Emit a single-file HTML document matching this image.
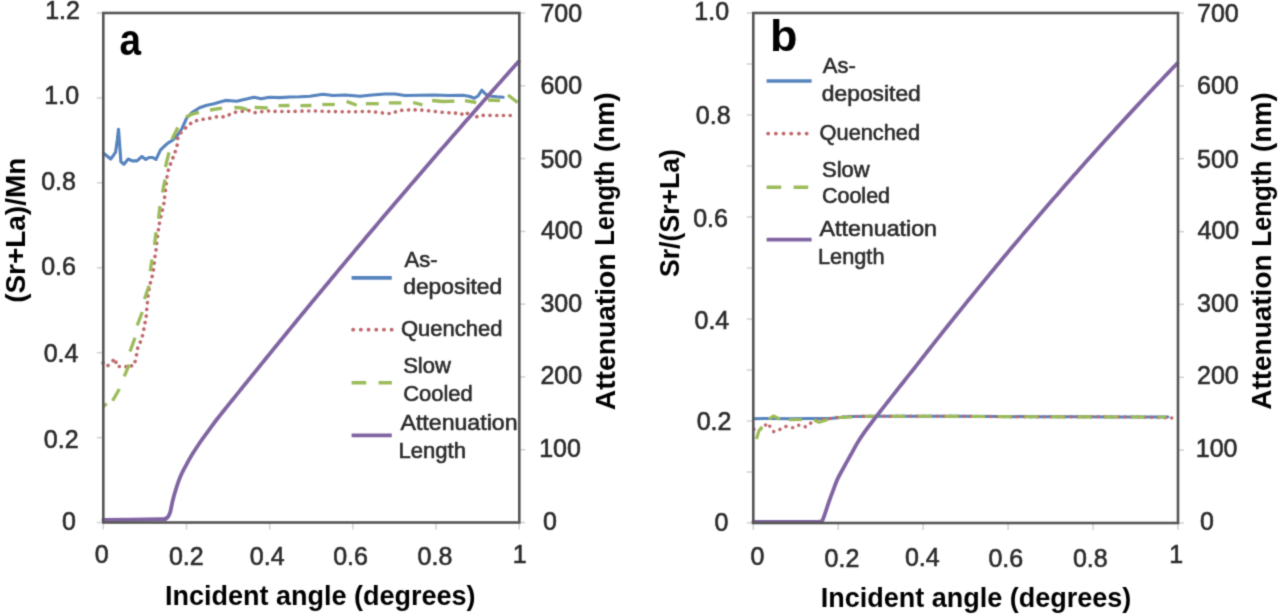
<!DOCTYPE html>
<html><head><meta charset="utf-8"><title>Chart</title>
<style>html,body{margin:0;padding:0;background:#fff;}svg{display:block;}</style>
</head><body>
<svg width="1280" height="616" viewBox="0 0 1280 616" font-family="'Liberation Sans', sans-serif">
<defs><filter id="soft" x="0" y="0" width="1" height="1" color-interpolation-filters="sRGB"><feConvolveMatrix order="3" kernelMatrix="1 4 1 4 16 4 1 4 1" divisor="36" edgeMode="duplicate"/></filter></defs>
<g filter="url(#soft)">
<rect x="0" y="0" width="1280" height="616" fill="#ffffff"/>
<line x1="96.8" y1="522.5" x2="103.3" y2="522.5" stroke="#d0d0d0" stroke-width="1.5"/>
<line x1="96.8" y1="437.6" x2="103.3" y2="437.6" stroke="#d0d0d0" stroke-width="1.5"/>
<line x1="96.8" y1="352.7" x2="103.3" y2="352.7" stroke="#d0d0d0" stroke-width="1.5"/>
<line x1="96.8" y1="267.8" x2="103.3" y2="267.8" stroke="#d0d0d0" stroke-width="1.5"/>
<line x1="96.8" y1="182.8" x2="103.3" y2="182.8" stroke="#d0d0d0" stroke-width="1.5"/>
<line x1="96.8" y1="97.9" x2="103.3" y2="97.9" stroke="#d0d0d0" stroke-width="1.5"/>
<line x1="96.8" y1="13.0" x2="103.3" y2="13.0" stroke="#d0d0d0" stroke-width="1.5"/>
<line x1="519.3" y1="522.5" x2="525.3" y2="522.5" stroke="#d0d0d0" stroke-width="1.5"/>
<line x1="519.3" y1="449.7" x2="525.3" y2="449.7" stroke="#d0d0d0" stroke-width="1.5"/>
<line x1="519.3" y1="376.9" x2="525.3" y2="376.9" stroke="#d0d0d0" stroke-width="1.5"/>
<line x1="519.3" y1="304.1" x2="525.3" y2="304.1" stroke="#d0d0d0" stroke-width="1.5"/>
<line x1="519.3" y1="231.4" x2="525.3" y2="231.4" stroke="#d0d0d0" stroke-width="1.5"/>
<line x1="519.3" y1="158.6" x2="525.3" y2="158.6" stroke="#d0d0d0" stroke-width="1.5"/>
<line x1="519.3" y1="85.8" x2="525.3" y2="85.8" stroke="#d0d0d0" stroke-width="1.5"/>
<line x1="519.3" y1="13.0" x2="525.3" y2="13.0" stroke="#d0d0d0" stroke-width="1.5"/>
<line x1="103.3" y1="522.5" x2="103.3" y2="529.5" stroke="#d0d0d0" stroke-width="1.5"/>
<line x1="186.5" y1="522.5" x2="186.5" y2="529.5" stroke="#d0d0d0" stroke-width="1.5"/>
<line x1="269.7" y1="522.5" x2="269.7" y2="529.5" stroke="#d0d0d0" stroke-width="1.5"/>
<line x1="352.9" y1="522.5" x2="352.9" y2="529.5" stroke="#d0d0d0" stroke-width="1.5"/>
<line x1="436.1" y1="522.5" x2="436.1" y2="529.5" stroke="#d0d0d0" stroke-width="1.5"/>
<line x1="519.3" y1="522.5" x2="519.3" y2="529.5" stroke="#d0d0d0" stroke-width="1.5"/>
<line x1="746.8" y1="523.0" x2="753.3" y2="523.0" stroke="#d0d0d0" stroke-width="1.5"/>
<line x1="746.8" y1="472.0" x2="753.3" y2="472.0" stroke="#d0d0d0" stroke-width="1.5"/>
<line x1="746.8" y1="421.0" x2="753.3" y2="421.0" stroke="#d0d0d0" stroke-width="1.5"/>
<line x1="746.8" y1="370.0" x2="753.3" y2="370.0" stroke="#d0d0d0" stroke-width="1.5"/>
<line x1="746.8" y1="319.0" x2="753.3" y2="319.0" stroke="#d0d0d0" stroke-width="1.5"/>
<line x1="746.8" y1="268.0" x2="753.3" y2="268.0" stroke="#d0d0d0" stroke-width="1.5"/>
<line x1="746.8" y1="217.0" x2="753.3" y2="217.0" stroke="#d0d0d0" stroke-width="1.5"/>
<line x1="746.8" y1="166.0" x2="753.3" y2="166.0" stroke="#d0d0d0" stroke-width="1.5"/>
<line x1="746.8" y1="115.0" x2="753.3" y2="115.0" stroke="#d0d0d0" stroke-width="1.5"/>
<line x1="746.8" y1="64.0" x2="753.3" y2="64.0" stroke="#d0d0d0" stroke-width="1.5"/>
<line x1="746.8" y1="13.0" x2="753.3" y2="13.0" stroke="#d0d0d0" stroke-width="1.5"/>
<line x1="1178.0" y1="523.0" x2="1184.0" y2="523.0" stroke="#d0d0d0" stroke-width="1.5"/>
<line x1="1178.0" y1="450.1" x2="1184.0" y2="450.1" stroke="#d0d0d0" stroke-width="1.5"/>
<line x1="1178.0" y1="377.3" x2="1184.0" y2="377.3" stroke="#d0d0d0" stroke-width="1.5"/>
<line x1="1178.0" y1="304.4" x2="1184.0" y2="304.4" stroke="#d0d0d0" stroke-width="1.5"/>
<line x1="1178.0" y1="231.6" x2="1184.0" y2="231.6" stroke="#d0d0d0" stroke-width="1.5"/>
<line x1="1178.0" y1="158.7" x2="1184.0" y2="158.7" stroke="#d0d0d0" stroke-width="1.5"/>
<line x1="1178.0" y1="85.9" x2="1184.0" y2="85.9" stroke="#d0d0d0" stroke-width="1.5"/>
<line x1="1178.0" y1="13.0" x2="1184.0" y2="13.0" stroke="#d0d0d0" stroke-width="1.5"/>
<line x1="753.3" y1="523.0" x2="753.3" y2="530.0" stroke="#d0d0d0" stroke-width="1.5"/>
<line x1="838.2" y1="523.0" x2="838.2" y2="530.0" stroke="#d0d0d0" stroke-width="1.5"/>
<line x1="923.2" y1="523.0" x2="923.2" y2="530.0" stroke="#d0d0d0" stroke-width="1.5"/>
<line x1="1008.1" y1="523.0" x2="1008.1" y2="530.0" stroke="#d0d0d0" stroke-width="1.5"/>
<line x1="1093.1" y1="523.0" x2="1093.1" y2="530.0" stroke="#d0d0d0" stroke-width="1.5"/>
<line x1="1178.0" y1="523.0" x2="1178.0" y2="530.0" stroke="#d0d0d0" stroke-width="1.5"/>
<polyline points="103.5,153.1 107.0,156.0 110.7,159.0 113.0,156.0 115.6,152.1 117.3,140.0 118.5,129.2 119.7,145.0 120.9,161.9 123.9,164.3 128.2,159.0 132.1,160.9 137.0,160.9 141.9,156.5 145.8,159.4 149.0,157.5 152.6,157.5 156.0,159.4 160.4,150.2 164.0,146.5 168.2,142.9 173.0,140.0 177.9,134.6 182.0,128.5 186.5,118.3 192.0,112.5 199.5,107.7 206.0,105.5 214.0,103.7 220.0,102.0 225.5,100.4 231.0,100.8 236.8,101.2 242.0,100.0 247.4,98.8 253.9,97.2 261.2,98.8 269.3,97.2 280.0,97.6 290.0,97.0 300.0,96.8 310.0,96.2 322.8,94.2 333.0,95.5 345.0,95.0 360.0,96.2 372.0,95.0 385.0,94.0 395.0,94.0 405.0,95.5 420.0,95.2 434.7,95.0 448.0,95.5 463.0,95.2 470.0,96.5 474.3,98.3 478.0,96.0 481.9,90.2 486.0,94.5 491.6,96.2 497.0,96.8 503.2,97.3" fill="none" stroke="#5583bd" stroke-width="3.1" stroke-linecap="round" stroke-linejoin="round"/>
<path d="M103.00,362.80 C103.63,363.37 105.52,366.28 106.80,366.20 C108.08,366.12 109.50,363.33 110.70,362.30 C111.90,361.27 113.20,360.57 114.00,360.00 C114.80,359.43 115.08,357.95 115.50,358.90 C115.92,359.85 115.92,364.43 116.50,365.70 C117.08,366.97 117.87,366.42 119.00,366.50 C120.13,366.58 121.97,366.13 123.30,366.20 C124.63,366.27 125.87,366.65 127.00,366.90 C128.13,367.15 128.93,368.55 130.10,367.70 C131.27,366.85 133.18,362.78 134.00,361.80 C134.82,360.82 134.58,362.90 135.00,361.80 C135.42,360.70 136.00,357.63 136.50,355.20 C137.00,352.77 137.27,349.63 138.00,347.20 C138.73,344.77 140.05,342.92 140.90,340.60 C141.75,338.28 142.50,335.85 143.10,333.30 C143.70,330.75 144.02,327.85 144.50,325.30 C144.98,322.75 145.63,320.55 146.00,318.00 C146.37,315.45 146.47,312.57 146.70,310.00 C146.93,307.43 147.15,305.17 147.40,302.60 C147.65,300.03 147.83,297.27 148.20,294.60 C148.57,291.93 149.12,289.03 149.60,286.60 C150.08,284.17 150.52,282.40 151.10,280.00 C151.68,277.60 152.45,276.10 153.10,272.20 C153.75,268.30 154.52,260.33 155.00,256.60 C155.48,252.87 155.35,254.82 156.00,249.80 C156.65,244.78 157.60,234.13 158.90,226.50 C160.20,218.87 162.82,209.03 163.80,204.00 C164.78,198.97 164.15,201.48 164.80,196.30 C165.45,191.12 166.42,179.12 167.70,172.90 C168.98,166.68 171.20,162.65 172.50,159.00 C173.80,155.35 174.68,153.52 175.50,151.00 C176.32,148.48 176.92,146.40 177.40,143.90 C177.88,141.40 177.43,138.23 178.40,136.00 C179.37,133.77 181.45,132.37 183.20,130.50 C184.95,128.63 187.07,126.30 188.90,124.80 C190.73,123.30 192.17,122.38 194.20,121.50 C196.23,120.62 198.80,119.97 201.10,119.50 C203.40,119.03 205.63,119.12 208.00,118.70 C210.37,118.28 213.00,117.28 215.30,117.00 C217.60,116.72 219.85,117.20 221.80,117.00 C223.75,116.80 225.03,116.53 227.00,115.80 C228.97,115.07 231.15,113.33 233.60,112.60 C236.05,111.87 239.20,111.73 241.70,111.40 C244.20,111.07 246.50,110.40 248.60,110.60 C250.70,110.80 252.20,112.40 254.30,112.60 C256.40,112.80 258.92,112.07 261.20,111.80 C263.48,111.53 265.77,111.07 268.00,111.00 C270.23,110.93 270.93,111.32 274.60,111.40 C278.27,111.48 284.10,111.57 290.00,111.50 C295.90,111.43 303.33,111.00 310.00,111.00 C316.67,111.00 323.33,111.37 330.00,111.50 C336.67,111.63 343.33,111.80 350.00,111.80 C356.67,111.80 363.33,111.22 370.00,111.50 C376.67,111.78 385.00,113.67 390.00,113.50 C395.00,113.33 395.00,111.08 400.00,110.50 C405.00,109.92 412.50,109.67 420.00,110.00 C427.50,110.33 438.33,111.92 445.00,112.50 C451.67,113.08 456.67,113.00 460.00,113.50 C463.33,114.00 463.33,115.83 465.00,115.50 C466.67,115.17 468.33,111.17 470.00,111.50 C471.67,111.83 473.33,116.83 475.00,117.50 C476.67,118.17 475.83,115.83 480.00,115.50 C484.17,115.17 494.00,115.50 500.00,115.50 C506.00,115.50 513.33,115.50 516.00,115.50" fill="none" stroke="#c0676a" stroke-width="3.6" stroke-linecap="round" stroke-linejoin="round" stroke-dasharray="0.1 6.6"/>
<polyline points="102.9,406.6 106.8,403.7" fill="none" stroke="#9bbb59" stroke-width="3.3" stroke-linecap="butt" stroke-linejoin="round"/>
<polyline points="112.6,400.8 119.4,389.0" fill="none" stroke="#9bbb59" stroke-width="3.3" stroke-linecap="butt" stroke-linejoin="round"/>
<polyline points="124.3,376.4 129.2,364.7" fill="none" stroke="#9bbb59" stroke-width="3.3" stroke-linecap="butt" stroke-linejoin="round"/>
<polyline points="130.0,351.5 135.0,337.7" fill="none" stroke="#9bbb59" stroke-width="3.3" stroke-linecap="butt" stroke-linejoin="round"/>
<polyline points="137.2,325.3 142.3,312.0" fill="none" stroke="#9bbb59" stroke-width="3.3" stroke-linecap="butt" stroke-linejoin="round"/>
<polyline points="144.5,299.0 149.0,285.8" fill="none" stroke="#9bbb59" stroke-width="3.3" stroke-linecap="butt" stroke-linejoin="round"/>
<polyline points="150.2,271.2 152.0,259.6" fill="none" stroke="#9bbb59" stroke-width="3.3" stroke-linecap="butt" stroke-linejoin="round"/>
<polyline points="154.5,245.0 156.0,232.3" fill="none" stroke="#9bbb59" stroke-width="3.3" stroke-linecap="butt" stroke-linejoin="round"/>
<polyline points="158.5,218.7 160.0,206.0" fill="none" stroke="#9bbb59" stroke-width="3.3" stroke-linecap="butt" stroke-linejoin="round"/>
<polyline points="162.5,192.5 165.0,179.5" fill="none" stroke="#9bbb59" stroke-width="3.3" stroke-linecap="butt" stroke-linejoin="round"/>
<polyline points="165.4,167.0 169.0,152.4" fill="none" stroke="#9bbb59" stroke-width="3.3" stroke-linecap="butt" stroke-linejoin="round"/>
<polyline points="172.0,139.2 177.8,127.5" fill="none" stroke="#9bbb59" stroke-width="3.3" stroke-linecap="butt" stroke-linejoin="round"/>
<polyline points="186.0,117.0 192.0,114.2 199.0,112.3" fill="none" stroke="#9bbb59" stroke-width="3.3" stroke-linecap="butt" stroke-linejoin="round"/>
<polyline points="210.0,110.0 222.0,108.2" fill="none" stroke="#9bbb59" stroke-width="3.3" stroke-linecap="butt" stroke-linejoin="round"/>
<polyline points="234.4,107.5 241.0,107.8 247.4,109.5" fill="none" stroke="#9bbb59" stroke-width="3.3" stroke-linecap="butt" stroke-linejoin="round"/>
<polyline points="254.7,107.3 267.7,108.0" fill="none" stroke="#9bbb59" stroke-width="3.3" stroke-linecap="butt" stroke-linejoin="round"/>
<polyline points="278.6,105.7 289.5,105.5" fill="none" stroke="#9bbb59" stroke-width="3.3" stroke-linecap="butt" stroke-linejoin="round"/>
<polyline points="300.5,105.7 311.4,105.5" fill="none" stroke="#9bbb59" stroke-width="3.3" stroke-linecap="butt" stroke-linejoin="round"/>
<polyline points="322.3,104.5 334.8,104.5" fill="none" stroke="#9bbb59" stroke-width="3.3" stroke-linecap="butt" stroke-linejoin="round"/>
<polyline points="346.6,101.4 356.7,105.3" fill="none" stroke="#9bbb59" stroke-width="3.3" stroke-linecap="butt" stroke-linejoin="round"/>
<polyline points="365.9,103.7 378.8,103.7" fill="none" stroke="#9bbb59" stroke-width="3.3" stroke-linecap="butt" stroke-linejoin="round"/>
<polyline points="388.9,102.9 401.4,102.9" fill="none" stroke="#9bbb59" stroke-width="3.3" stroke-linecap="butt" stroke-linejoin="round"/>
<polyline points="413.1,102.5 422.5,104.8" fill="none" stroke="#9bbb59" stroke-width="3.3" stroke-linecap="butt" stroke-linejoin="round"/>
<polyline points="432.1,100.5 443.0,101.5 454.4,101.2" fill="none" stroke="#9bbb59" stroke-width="3.3" stroke-linecap="butt" stroke-linejoin="round"/>
<polyline points="465.0,100.6 476.2,102.5" fill="none" stroke="#9bbb59" stroke-width="3.3" stroke-linecap="butt" stroke-linejoin="round"/>
<polyline points="488.0,100.0 500.0,100.6" fill="none" stroke="#9bbb59" stroke-width="3.3" stroke-linecap="butt" stroke-linejoin="round"/>
<polyline points="508.0,95.0 517.5,102.5" fill="none" stroke="#9bbb59" stroke-width="3.3" stroke-linecap="butt" stroke-linejoin="round"/>
<path d="M103.30,519.80 C112.75,519.70 149.72,519.40 160.00,519.20 C170.28,519.00 163.72,518.92 165.00,518.60 C166.28,518.28 166.83,518.38 167.70,517.30 C168.57,516.22 169.35,514.95 170.20,512.10 C171.05,509.25 171.80,504.17 172.80,500.20 C173.80,496.23 174.92,492.28 176.20,488.30 C177.48,484.32 178.93,480.00 180.50,476.30 C182.07,472.60 183.62,469.80 185.60,466.10 C187.58,462.40 189.98,458.08 192.40,454.10 C194.82,450.12 197.68,445.75 200.10,442.20 C202.52,438.65 204.20,436.50 206.90,432.80 C209.60,429.10 214.23,422.76 216.30,420.00 C218.37,417.24 218.30,417.50 219.30,416.25 C220.30,415.00 221.30,413.76 222.30,412.51 C223.30,411.26 224.30,410.01 225.30,408.77 C226.30,407.52 227.30,406.28 228.30,405.03 C229.30,403.79 230.30,402.54 231.30,401.30 C232.30,400.06 233.30,398.81 234.30,397.57 C235.30,396.33 236.30,395.09 237.30,393.85 C238.30,392.61 239.30,391.37 240.30,390.13 C241.30,388.89 242.30,387.65 243.30,386.41 C244.30,385.17 245.30,383.94 246.30,382.70 C247.30,381.46 248.30,380.23 249.30,378.99 C250.30,377.76 251.30,376.52 252.30,375.29 C253.30,374.05 254.30,372.82 255.30,371.59 C256.30,370.36 257.30,369.12 258.30,367.89 C259.30,366.65 260.30,365.42 261.30,364.18 C262.30,362.95 263.30,361.71 264.30,360.48 C265.30,359.25 266.30,358.02 267.30,356.79 C268.30,355.55 269.30,354.32 270.30,353.09 C271.30,351.86 272.30,350.64 273.30,349.41 C274.30,348.18 275.30,346.95 276.30,345.72 C277.30,344.50 278.30,343.27 279.30,342.04 C280.30,340.82 281.30,339.59 282.30,338.37 C283.30,337.14 284.30,335.92 285.30,334.70 C286.30,333.47 287.30,332.25 288.30,331.03 C289.30,329.81 290.30,328.59 291.30,327.37 C292.30,326.15 293.30,324.93 294.30,323.71 C295.30,322.49 296.30,321.27 297.30,320.05 C298.30,318.83 299.30,317.62 300.30,316.40 C301.30,315.18 302.30,313.97 303.30,312.75 C304.30,311.54 305.30,310.32 306.30,309.11 C307.30,307.90 308.30,306.68 309.30,305.47 C310.30,304.26 311.30,303.05 312.30,301.83 C313.30,300.62 314.30,299.41 315.30,298.20 C316.30,296.99 317.30,295.79 318.30,294.58 C319.30,293.37 320.30,292.16 321.30,290.95 C322.30,289.75 323.30,288.54 324.30,287.33 C325.30,286.13 326.30,284.92 327.30,283.72 C328.30,282.52 329.30,281.31 330.30,280.11 C331.30,278.91 332.30,277.70 333.30,276.50 C334.30,275.30 335.30,274.10 336.30,272.90 C337.30,271.70 338.30,270.50 339.30,269.30 C340.30,268.10 341.30,266.90 342.30,265.71 C343.30,264.51 344.30,263.31 345.30,262.12 C346.30,260.92 347.30,259.72 348.30,258.53 C349.30,257.33 350.30,256.14 351.30,254.95 C352.30,253.75 353.30,252.56 354.30,251.37 C355.30,250.18 356.30,248.98 357.30,247.79 C358.30,246.60 359.30,245.41 360.30,244.22 C361.30,243.03 362.30,241.84 363.30,240.66 C364.30,239.47 365.30,238.28 366.30,237.09 C367.30,235.91 368.30,234.72 369.30,233.54 C370.30,232.35 371.30,231.17 372.30,229.98 C373.30,228.80 374.30,227.61 375.30,226.43 C376.30,225.25 377.30,224.07 378.30,222.88 C379.30,221.70 380.30,220.52 381.30,219.34 C382.30,218.16 383.30,216.98 384.30,215.80 C385.30,214.63 386.30,213.45 387.30,212.27 C388.30,211.09 389.30,209.92 390.30,208.74 C391.30,207.56 392.30,206.39 393.30,205.21 C394.30,204.04 395.30,202.87 396.30,201.69 C397.30,200.52 398.30,199.35 399.30,198.17 C400.30,197.00 401.30,195.83 402.30,194.66 C403.30,193.49 404.30,192.32 405.30,191.15 C406.30,189.98 407.30,188.81 408.30,187.65 C409.30,186.48 410.30,185.31 411.30,184.14 C412.30,182.98 413.30,181.81 414.30,180.65 C415.30,179.48 416.30,178.32 417.30,177.15 C418.30,175.99 419.30,174.83 420.30,173.66 C421.30,172.50 422.30,171.34 423.30,170.18 C424.30,169.02 425.30,167.86 426.30,166.70 C427.30,165.54 428.30,164.38 429.30,163.22 C430.30,162.06 431.30,160.90 432.30,159.74 C433.30,158.59 434.30,157.43 435.30,156.28 C436.30,155.12 437.30,153.96 438.30,152.81 C439.30,151.66 440.30,150.50 441.30,149.35 C442.30,148.20 443.30,147.04 444.30,145.89 C445.30,144.74 446.30,143.59 447.30,142.44 C448.30,141.29 449.30,140.14 450.30,138.99 C451.30,137.84 452.30,136.69 453.30,135.54 C454.30,134.40 455.30,133.25 456.30,132.10 C457.30,130.96 458.30,129.81 459.30,128.67 C460.30,127.52 461.30,126.38 462.30,125.23 C463.30,124.09 464.30,122.95 465.30,121.80 C466.30,120.66 467.30,119.52 468.30,118.38 C469.30,117.24 470.30,116.10 471.30,114.96 C472.30,113.82 473.30,112.68 474.30,111.54 C475.30,110.40 476.30,109.26 477.30,108.13 C478.30,106.99 479.30,105.85 480.30,104.72 C481.30,103.58 482.30,102.45 483.30,101.31 C484.30,100.18 485.30,99.05 486.30,97.91 C487.30,96.78 488.30,95.65 489.30,94.52 C490.30,93.39 491.30,92.25 492.30,91.12 C493.30,89.99 494.30,88.86 495.30,87.74 C496.30,86.61 497.30,85.48 498.30,84.35 C499.30,83.22 500.30,82.10 501.30,80.97 C502.30,79.84 503.30,78.72 504.30,77.59 C505.30,76.47 506.30,75.35 507.30,74.22 C508.30,73.10 509.30,71.98 510.30,70.85 C511.30,69.73 512.30,68.61 513.30,67.49 C514.30,66.37 515.40,65.14 516.30,64.13 C517.20,63.12 518.30,61.89 518.70,61.44" fill="none" stroke="#8064a2" stroke-width="3.8" stroke-linecap="round" stroke-linejoin="round"/>
<polyline points="754.0,418.7 770.0,418.5 790.0,418.8 810.0,418.5 830.0,418.5 850.0,416.5 880.0,416.2 920.0,416.2 960.0,416.2 1000.0,416.5 1040.0,416.8 1080.0,416.8 1120.0,416.9 1150.0,416.9 1168.0,417.0" fill="none" stroke="#5583bd" stroke-width="3.0" stroke-linecap="round" stroke-linejoin="round"/>
<path d="M754.00,429.20 C754.67,429.13 756.43,428.93 758.00,428.80 C759.57,428.67 761.90,429.35 763.40,428.40 C764.90,427.45 765.92,423.43 767.00,423.10 C768.08,422.77 768.73,424.97 769.90,426.40 C771.07,427.83 772.25,431.23 774.00,431.70 C775.75,432.17 778.32,430.08 780.40,429.20 C782.48,428.32 784.33,426.67 786.50,426.40 C788.67,426.13 791.37,427.80 793.40,427.60 C795.43,427.40 796.73,425.33 798.70,425.20 C800.67,425.07 803.32,427.08 805.20,426.80 C807.08,426.52 807.87,424.63 810.00,423.50 C812.13,422.37 814.67,420.83 818.00,420.00 C821.33,419.17 824.67,419.08 830.00,418.50 C835.33,417.92 838.33,416.88 850.00,416.50 C861.67,416.12 881.67,416.25 900.00,416.20 C918.33,416.15 940.00,416.10 960.00,416.20 C980.00,416.30 1000.00,416.70 1020.00,416.80 C1040.00,416.90 1060.00,416.77 1080.00,416.80 C1100.00,416.83 1124.67,416.80 1140.00,417.00 C1155.33,417.20 1166.67,417.83 1172.00,418.00" fill="none" stroke="#c0676a" stroke-width="3.4" stroke-linecap="round" stroke-linejoin="round" stroke-dasharray="0.1 6.6"/>
<polyline points="756.5,439.0 758.9,430.8 762.2,426.8" fill="none" stroke="#9bbb59" stroke-width="3.1" stroke-linecap="butt" stroke-linejoin="round"/>
<polyline points="768.7,419.0 773.5,416.0 780.0,419.2" fill="none" stroke="#9bbb59" stroke-width="3.1" stroke-linecap="butt" stroke-linejoin="round"/>
<polyline points="789.0,419.8 802.0,419.5" fill="none" stroke="#9bbb59" stroke-width="3.1" stroke-linecap="butt" stroke-linejoin="round"/>
<polyline points="814.0,420.0 819.0,422.3 828.0,419.5" fill="none" stroke="#9bbb59" stroke-width="3.1" stroke-linecap="butt" stroke-linejoin="round"/>
<polyline points="835.0,418.3 840.0,417.5 870.0,416.2 920.0,416.2 980.0,416.5 1040.0,416.8 1100.0,416.9 1166.0,417.0" fill="none" stroke="#9bbb59" stroke-width="3.1" stroke-linecap="butt" stroke-linejoin="round" stroke-dasharray="13.8 12.8" stroke-dashoffset="23.16"/>
<path d="M753.30,521.90 C763.08,521.90 800.97,521.95 812.00,521.90 C823.03,521.85 817.80,521.82 819.50,521.60 C821.20,521.38 821.30,521.88 822.20,520.60 C823.10,519.32 823.78,517.02 824.90,513.90 C826.02,510.78 827.50,505.88 828.90,501.90 C830.30,497.92 831.85,493.83 833.30,490.00 C834.75,486.17 835.90,482.60 837.60,478.90 C839.30,475.20 841.40,471.65 843.50,467.80 C845.60,463.95 847.82,460.07 850.20,455.80 C852.58,451.53 855.30,446.32 857.80,442.20 C860.30,438.08 862.57,434.80 865.20,431.10 C867.83,427.40 871.70,422.49 873.60,420.00 C875.50,417.51 875.60,417.42 876.60,416.13 C877.60,414.85 878.60,413.56 879.60,412.28 C880.60,410.99 881.60,409.71 882.60,408.43 C883.60,407.14 884.60,405.86 885.60,404.58 C886.60,403.31 887.60,402.03 888.60,400.75 C889.60,399.48 890.60,398.20 891.60,396.93 C892.60,395.65 893.60,394.38 894.60,393.11 C895.60,391.84 896.60,390.57 897.60,389.30 C898.60,388.04 899.60,386.77 900.60,385.51 C901.60,384.24 902.60,382.98 903.60,381.72 C904.60,380.45 905.60,379.19 906.60,377.93 C907.60,376.68 908.60,375.42 909.60,374.16 C910.60,372.90 911.60,371.66 912.60,370.40 C913.60,369.13 914.60,367.85 915.60,366.58 C916.60,365.30 917.60,364.01 918.60,362.73 C919.60,361.45 920.60,360.18 921.60,358.90 C922.60,357.62 923.60,356.35 924.60,355.07 C925.60,353.80 926.60,352.53 927.60,351.26 C928.60,349.98 929.60,348.71 930.60,347.45 C931.60,346.18 932.60,344.91 933.60,343.65 C934.60,342.38 935.60,341.12 936.60,339.85 C937.60,338.59 938.60,337.33 939.60,336.07 C940.60,334.81 941.60,333.55 942.60,332.29 C943.60,331.04 944.60,329.78 945.60,328.53 C946.60,327.27 947.60,326.02 948.60,324.77 C949.60,323.52 950.60,322.27 951.60,321.02 C952.60,319.77 953.60,318.53 954.60,317.28 C955.60,316.03 956.60,314.79 957.60,313.55 C958.60,312.30 959.60,311.06 960.60,309.82 C961.60,308.58 962.60,307.34 963.60,306.11 C964.60,304.87 965.60,303.63 966.60,302.40 C967.60,301.17 968.60,299.93 969.60,298.70 C970.60,297.47 971.60,296.24 972.60,295.01 C973.60,293.78 974.60,292.56 975.60,291.33 C976.60,290.10 977.60,288.88 978.60,287.66 C979.60,286.43 980.60,285.21 981.60,283.99 C982.60,282.77 983.60,281.55 984.60,280.34 C985.60,279.12 986.60,277.90 987.60,276.69 C988.60,275.48 989.60,274.26 990.60,273.05 C991.60,271.84 992.60,270.63 993.60,269.42 C994.60,268.21 995.60,267.00 996.60,265.80 C997.60,264.59 998.60,263.39 999.60,262.18 C1000.60,260.98 1001.60,259.78 1002.60,258.58 C1003.60,257.38 1004.60,256.18 1005.60,254.98 C1006.60,253.79 1007.60,252.59 1008.60,251.40 C1009.60,250.20 1010.60,249.01 1011.60,247.82 C1012.60,246.62 1013.60,245.43 1014.60,244.25 C1015.60,243.06 1016.60,241.87 1017.60,240.68 C1018.60,239.50 1019.60,238.31 1020.60,237.13 C1021.60,235.95 1022.60,234.76 1023.60,233.58 C1024.60,232.40 1025.60,231.22 1026.60,230.05 C1027.60,228.87 1028.60,227.69 1029.60,226.52 C1030.60,225.34 1031.60,224.17 1032.60,223.00 C1033.60,221.83 1034.60,220.66 1035.60,219.49 C1036.60,218.32 1037.60,217.15 1038.60,215.98 C1039.60,214.82 1040.60,213.65 1041.60,212.49 C1042.60,211.33 1043.60,210.16 1044.60,209.00 C1045.60,207.84 1046.60,206.68 1047.60,205.53 C1048.60,204.37 1049.60,203.21 1050.60,202.06 C1051.60,200.90 1052.60,199.75 1053.60,198.60 C1054.60,197.45 1055.60,196.30 1056.60,195.15 C1057.60,194.00 1058.60,192.85 1059.60,191.70 C1060.60,190.56 1061.60,189.41 1062.60,188.27 C1063.60,187.12 1064.60,185.98 1065.60,184.84 C1066.60,183.70 1067.60,182.56 1068.60,181.42 C1069.60,180.29 1070.60,179.15 1071.60,178.01 C1072.60,176.88 1073.60,175.75 1074.60,174.61 C1075.60,173.48 1076.60,172.35 1077.60,171.22 C1078.60,170.09 1079.60,168.96 1080.60,167.84 C1081.60,166.71 1082.60,165.59 1083.60,164.46 C1084.60,163.34 1085.60,162.22 1086.60,161.10 C1087.60,159.98 1088.60,158.86 1089.60,157.74 C1090.60,156.62 1091.60,155.50 1092.60,154.39 C1093.60,153.27 1094.60,152.16 1095.60,151.05 C1096.60,149.93 1097.60,148.82 1098.60,147.71 C1099.60,146.60 1100.60,145.50 1101.60,144.39 C1102.60,143.28 1103.60,142.18 1104.60,141.07 C1105.60,139.97 1106.60,138.87 1107.60,137.77 C1108.60,136.67 1109.60,135.57 1110.60,134.47 C1111.60,133.37 1112.60,132.27 1113.60,131.18 C1114.60,130.08 1115.60,128.99 1116.60,127.90 C1117.60,126.80 1118.60,125.71 1119.60,124.62 C1120.60,123.53 1121.60,122.45 1122.60,121.36 C1123.60,120.27 1124.60,119.19 1125.60,118.10 C1126.60,117.02 1127.60,115.94 1128.60,114.85 C1129.60,113.77 1130.60,112.69 1131.60,111.62 C1132.60,110.54 1133.60,109.46 1134.60,108.38 C1135.60,107.31 1136.60,106.24 1137.60,105.16 C1138.60,104.09 1139.60,103.02 1140.60,101.95 C1141.60,100.88 1142.60,99.81 1143.60,98.74 C1144.60,97.68 1145.60,96.61 1146.60,95.55 C1147.60,94.48 1148.60,93.42 1149.60,92.36 C1150.60,91.30 1151.60,90.24 1152.60,89.18 C1153.60,88.12 1154.60,87.06 1155.60,86.01 C1156.60,84.95 1157.60,83.90 1158.60,82.85 C1159.60,81.79 1160.60,80.74 1161.60,79.69 C1162.60,78.64 1163.60,77.59 1164.60,76.55 C1165.60,75.50 1166.60,74.45 1167.60,73.41 C1168.60,72.37 1169.60,71.32 1170.60,70.28 C1171.60,69.24 1172.60,68.20 1173.60,67.16 C1174.60,66.12 1175.98,64.69 1176.60,64.05 C1177.22,63.41 1177.18,63.45 1177.30,63.32" fill="none" stroke="#8064a2" stroke-width="3.8" stroke-linecap="round" stroke-linejoin="round"/>
<rect x="103.3" y="13.0" width="416.0" height="509.5" fill="none" stroke="#555555" stroke-width="2.6"/>
<rect x="753.3" y="13.0" width="424.7" height="510.0" fill="none" stroke="#555555" stroke-width="2.6"/>
<text x="45.15" y="18.75" font-size="25" text-anchor="start" fill="#2b2b2b" stroke="#2b2b2b" stroke-width="0.6">1.2</text>
<text x="44.35" y="103.95" font-size="25" text-anchor="start" fill="#2b2b2b" stroke="#2b2b2b" stroke-width="0.6">1.0</text>
<text x="41.15" y="190.2" font-size="25" text-anchor="start" fill="#2b2b2b" stroke="#2b2b2b" stroke-width="0.6">0.8</text>
<text x="41.15" y="274.75" font-size="25" text-anchor="start" fill="#2b2b2b" stroke="#2b2b2b" stroke-width="0.6">0.6</text>
<text x="43.65" y="361.85" font-size="25" text-anchor="start" fill="#2b2b2b" stroke="#2b2b2b" stroke-width="0.6">0.4</text>
<text x="43.85" y="447.65" font-size="25" text-anchor="start" fill="#2b2b2b" stroke="#2b2b2b" stroke-width="0.6">0.2</text>
<text x="62.0" y="529.55" font-size="25" text-anchor="start" fill="#2b2b2b" stroke="#2b2b2b" stroke-width="0.6">0</text>
<text x="540.4" y="22.05" font-size="25" text-anchor="start" fill="#2b2b2b" stroke="#2b2b2b" stroke-width="0.6">700</text>
<text x="540.4" y="93.95" font-size="25" text-anchor="start" fill="#2b2b2b" stroke="#2b2b2b" stroke-width="0.6">600</text>
<text x="540.4" y="167.75" font-size="25" text-anchor="start" fill="#2b2b2b" stroke="#2b2b2b" stroke-width="0.6">500</text>
<text x="540.9" y="239.2" font-size="25" text-anchor="start" fill="#2b2b2b" stroke="#2b2b2b" stroke-width="0.6">400</text>
<text x="540.4" y="311.55" font-size="25" text-anchor="start" fill="#2b2b2b" stroke="#2b2b2b" stroke-width="0.6">300</text>
<text x="540.4" y="384.4" font-size="25" text-anchor="start" fill="#2b2b2b" stroke="#2b2b2b" stroke-width="0.6">200</text>
<text x="539.2" y="456.55" font-size="25" text-anchor="start" fill="#2b2b2b" stroke="#2b2b2b" stroke-width="0.6">100</text>
<text x="542.9" y="530.35" font-size="25" text-anchor="start" fill="#2b2b2b" stroke="#2b2b2b" stroke-width="0.6">0</text>
<text x="94.85" y="563.2" font-size="25" text-anchor="start" fill="#2b2b2b" stroke="#2b2b2b" stroke-width="0.6">0</text>
<text x="168.95" y="564.85" font-size="25" text-anchor="start" fill="#2b2b2b" stroke="#2b2b2b" stroke-width="0.6">0.2</text>
<text x="249.8" y="564.6" font-size="25" text-anchor="start" fill="#2b2b2b" stroke="#2b2b2b" stroke-width="0.6">0.4</text>
<text x="333.2" y="564.7" font-size="25" text-anchor="start" fill="#2b2b2b" stroke="#2b2b2b" stroke-width="0.6">0.6</text>
<text x="417.6" y="564.7" font-size="25" text-anchor="start" fill="#2b2b2b" stroke="#2b2b2b" stroke-width="0.6">0.8</text>
<text x="512.75" y="563.15" font-size="25" text-anchor="start" fill="#2b2b2b" stroke="#2b2b2b" stroke-width="0.6">1</text>
<text x="694.35" y="20.15" font-size="25" text-anchor="start" fill="#2b2b2b" stroke="#2b2b2b" stroke-width="0.6">1.0</text>
<text x="695.85" y="123.95" font-size="25" text-anchor="start" fill="#2b2b2b" stroke="#2b2b2b" stroke-width="0.6">0.8</text>
<text x="693.15" y="227.0" font-size="25" text-anchor="start" fill="#2b2b2b" stroke="#2b2b2b" stroke-width="0.6">0.6</text>
<text x="694.5" y="328.5" font-size="25" text-anchor="start" fill="#2b2b2b" stroke="#2b2b2b" stroke-width="0.6">0.4</text>
<text x="696.65" y="429.55" font-size="25" text-anchor="start" fill="#2b2b2b" stroke="#2b2b2b" stroke-width="0.6">0.2</text>
<text x="714.5" y="531.0" font-size="25" text-anchor="start" fill="#2b2b2b" stroke="#2b2b2b" stroke-width="0.6">0</text>
<text x="1197.0" y="22.3" font-size="25" text-anchor="start" fill="#2b2b2b" stroke="#2b2b2b" stroke-width="0.6">700</text>
<text x="1197.0" y="93.95" font-size="25" text-anchor="start" fill="#2b2b2b" stroke="#2b2b2b" stroke-width="0.6">600</text>
<text x="1197.0" y="167.75" font-size="25" text-anchor="start" fill="#2b2b2b" stroke="#2b2b2b" stroke-width="0.6">500</text>
<text x="1197.5" y="239.2" font-size="25" text-anchor="start" fill="#2b2b2b" stroke="#2b2b2b" stroke-width="0.6">400</text>
<text x="1197.0" y="311.55" font-size="25" text-anchor="start" fill="#2b2b2b" stroke="#2b2b2b" stroke-width="0.6">300</text>
<text x="1197.0" y="384.4" font-size="25" text-anchor="start" fill="#2b2b2b" stroke="#2b2b2b" stroke-width="0.6">200</text>
<text x="1195.8" y="456.55" font-size="25" text-anchor="start" fill="#2b2b2b" stroke="#2b2b2b" stroke-width="0.6">100</text>
<text x="1199.9" y="530.35" font-size="25" text-anchor="start" fill="#2b2b2b" stroke="#2b2b2b" stroke-width="0.6">0</text>
<text x="750.55" y="565.1" font-size="25" text-anchor="start" fill="#2b2b2b" stroke="#2b2b2b" stroke-width="0.6">0</text>
<text x="824.55" y="566.6" font-size="25" text-anchor="start" fill="#2b2b2b" stroke="#2b2b2b" stroke-width="0.6">0.2</text>
<text x="904.95" y="566.4" font-size="25" text-anchor="start" fill="#2b2b2b" stroke="#2b2b2b" stroke-width="0.6">0.4</text>
<text x="988.4" y="566.55" font-size="25" text-anchor="start" fill="#2b2b2b" stroke="#2b2b2b" stroke-width="0.6">0.6</text>
<text x="1072.9" y="566.55" font-size="25" text-anchor="start" fill="#2b2b2b" stroke="#2b2b2b" stroke-width="0.6">0.8</text>
<text x="1169.3" y="562.75" font-size="25" text-anchor="start" fill="#2b2b2b" stroke="#2b2b2b" stroke-width="0.6">1</text>
<text x="320.3" y="604.8" font-size="27" text-anchor="middle" fill="#000" font-weight="bold">Incident angle (degrees)</text>
<text x="976" y="606.5" font-size="27" text-anchor="middle" fill="#000" font-weight="bold">Incident angle (degrees)</text>
<text x="25.2" y="230.3" font-size="27" text-anchor="middle" fill="#000" font-weight="bold" textLength="145" lengthAdjust="spacingAndGlyphs" transform="rotate(-90 25.2 230.3)">(Sr+La)/Mn</text>
<text x="678.6" y="213" font-size="27" text-anchor="middle" fill="#000" font-weight="bold" textLength="128" lengthAdjust="spacingAndGlyphs" transform="rotate(-90 678.6 213)">Sr/(Sr+La)</text>
<text x="614.5" y="410.25" font-size="27" text-anchor="start" fill="#000" font-weight="bold" textLength="156.82" lengthAdjust="spacingAndGlyphs" transform="rotate(-90 614.5 410.25)">Attenuation</text>
<text x="614.5" y="245.79" font-size="27" text-anchor="start" fill="#000" font-weight="bold" textLength="84.96" lengthAdjust="spacingAndGlyphs" transform="rotate(-90 614.5 245.79)">Length</text>
<text x="614.5" y="151.92" font-size="27" text-anchor="start" fill="#000" font-weight="bold" textLength="59.53" lengthAdjust="spacingAndGlyphs" transform="rotate(-90 614.5 151.92)">(nm)</text>
<text x="1270.8" y="409.74" font-size="27" text-anchor="start" fill="#000" font-weight="bold" textLength="155.29" lengthAdjust="spacingAndGlyphs" transform="rotate(-90 1270.8 409.74)">Attenuation</text>
<text x="1270.8" y="246.81" font-size="27" text-anchor="start" fill="#000" font-weight="bold" textLength="86.01" lengthAdjust="spacingAndGlyphs" transform="rotate(-90 1270.8 246.81)">Length</text>
<text x="1270.8" y="151.92" font-size="27" text-anchor="start" fill="#000" font-weight="bold" textLength="59.53" lengthAdjust="spacingAndGlyphs" transform="rotate(-90 1270.8 151.92)">(nm)</text>
<text x="119.6" y="55.2" font-size="45" text-anchor="start" fill="#000" font-weight="bold" textLength="21.5" lengthAdjust="spacingAndGlyphs">a</text>
<text x="770" y="51" font-size="45" text-anchor="start" fill="#000" font-weight="bold">b</text>
<polyline points="351.6,277.9 391.8,277.9" fill="none" stroke="#5583bd" stroke-width="3.6" stroke-linecap="butt" stroke-linejoin="round"/>
<polyline points="353.1,329.7 391.8,329.7" fill="none" stroke="#c0676a" stroke-width="3.8" stroke-linecap="round" stroke-linejoin="round" stroke-dasharray="0.1 7.6"/>
<polyline points="351.6,382.7 391.9,382.7" fill="none" stroke="#9bbb59" stroke-width="3.6" stroke-linecap="butt" stroke-linejoin="round" stroke-dasharray="14.6 12.4"/>
<polyline points="351.6,435.3 391.8,435.3" fill="none" stroke="#8064a2" stroke-width="3.8" stroke-linecap="butt" stroke-linejoin="round"/>
<text x="404.5" y="266.9" font-size="22" text-anchor="start" fill="#2b2b2b" stroke="#2b2b2b" stroke-width="0.6">As-</text>
<text x="403.2" y="294.0" font-size="22" text-anchor="start" fill="#2b2b2b" stroke="#2b2b2b" stroke-width="0.6" textLength="99" lengthAdjust="spacingAndGlyphs">deposited</text>
<text x="401.0" y="336.3" font-size="22" text-anchor="start" fill="#2b2b2b" stroke="#2b2b2b" stroke-width="0.6" textLength="101.5" lengthAdjust="spacingAndGlyphs">Quenched</text>
<text x="403.2" y="372.9" font-size="22" text-anchor="start" fill="#2b2b2b" stroke="#2b2b2b" stroke-width="0.6">Slow</text>
<text x="403.2" y="400.5" font-size="22" text-anchor="start" fill="#2b2b2b" stroke="#2b2b2b" stroke-width="0.6" textLength="69.5" lengthAdjust="spacingAndGlyphs">Cooled</text>
<text x="400.5" y="430.4" font-size="22" text-anchor="start" fill="#2b2b2b" stroke="#2b2b2b" stroke-width="0.6" textLength="117" lengthAdjust="spacingAndGlyphs">Attenuation</text>
<text x="398.5" y="457.5" font-size="22" text-anchor="start" fill="#2b2b2b" stroke="#2b2b2b" stroke-width="0.6" textLength="67.5" lengthAdjust="spacingAndGlyphs">Length</text>
<polyline points="766.6,81.0 811.6,81.0" fill="none" stroke="#5583bd" stroke-width="3.6" stroke-linecap="butt" stroke-linejoin="round"/>
<polyline points="768.1,133.6 811.6,133.6" fill="none" stroke="#c0676a" stroke-width="3.8" stroke-linecap="round" stroke-linejoin="round" stroke-dasharray="0.1 7.6"/>
<polyline points="766.6,187.3 809.0,187.3" fill="none" stroke="#9bbb59" stroke-width="3.6" stroke-linecap="butt" stroke-linejoin="round" stroke-dasharray="14.6 12.4"/>
<polyline points="766.6,239.7 811.6,239.7" fill="none" stroke="#8064a2" stroke-width="3.8" stroke-linecap="butt" stroke-linejoin="round"/>
<text x="822.8" y="73.4" font-size="22" text-anchor="start" fill="#2b2b2b" stroke="#2b2b2b" stroke-width="0.6">As-</text>
<text x="821.8" y="101.1" font-size="22" text-anchor="start" fill="#2b2b2b" stroke="#2b2b2b" stroke-width="0.6" textLength="99" lengthAdjust="spacingAndGlyphs">deposited</text>
<text x="819.6" y="139.5" font-size="22" text-anchor="start" fill="#2b2b2b" stroke="#2b2b2b" stroke-width="0.6" textLength="100.5" lengthAdjust="spacingAndGlyphs">Quenched</text>
<text x="822.0" y="176.5" font-size="22" text-anchor="start" fill="#2b2b2b" stroke="#2b2b2b" stroke-width="0.6">Slow</text>
<text x="822.0" y="203.3" font-size="22" text-anchor="start" fill="#2b2b2b" stroke="#2b2b2b" stroke-width="0.6" textLength="68" lengthAdjust="spacingAndGlyphs">Cooled</text>
<text x="819.5" y="236.4" font-size="22" text-anchor="start" fill="#2b2b2b" stroke="#2b2b2b" stroke-width="0.6" textLength="117.5" lengthAdjust="spacingAndGlyphs">Attenuation</text>
<text x="818.0" y="263.5" font-size="22" text-anchor="start" fill="#2b2b2b" stroke="#2b2b2b" stroke-width="0.6" textLength="66.5" lengthAdjust="spacingAndGlyphs">Length</text>
</g>
</svg>
</body></html>
